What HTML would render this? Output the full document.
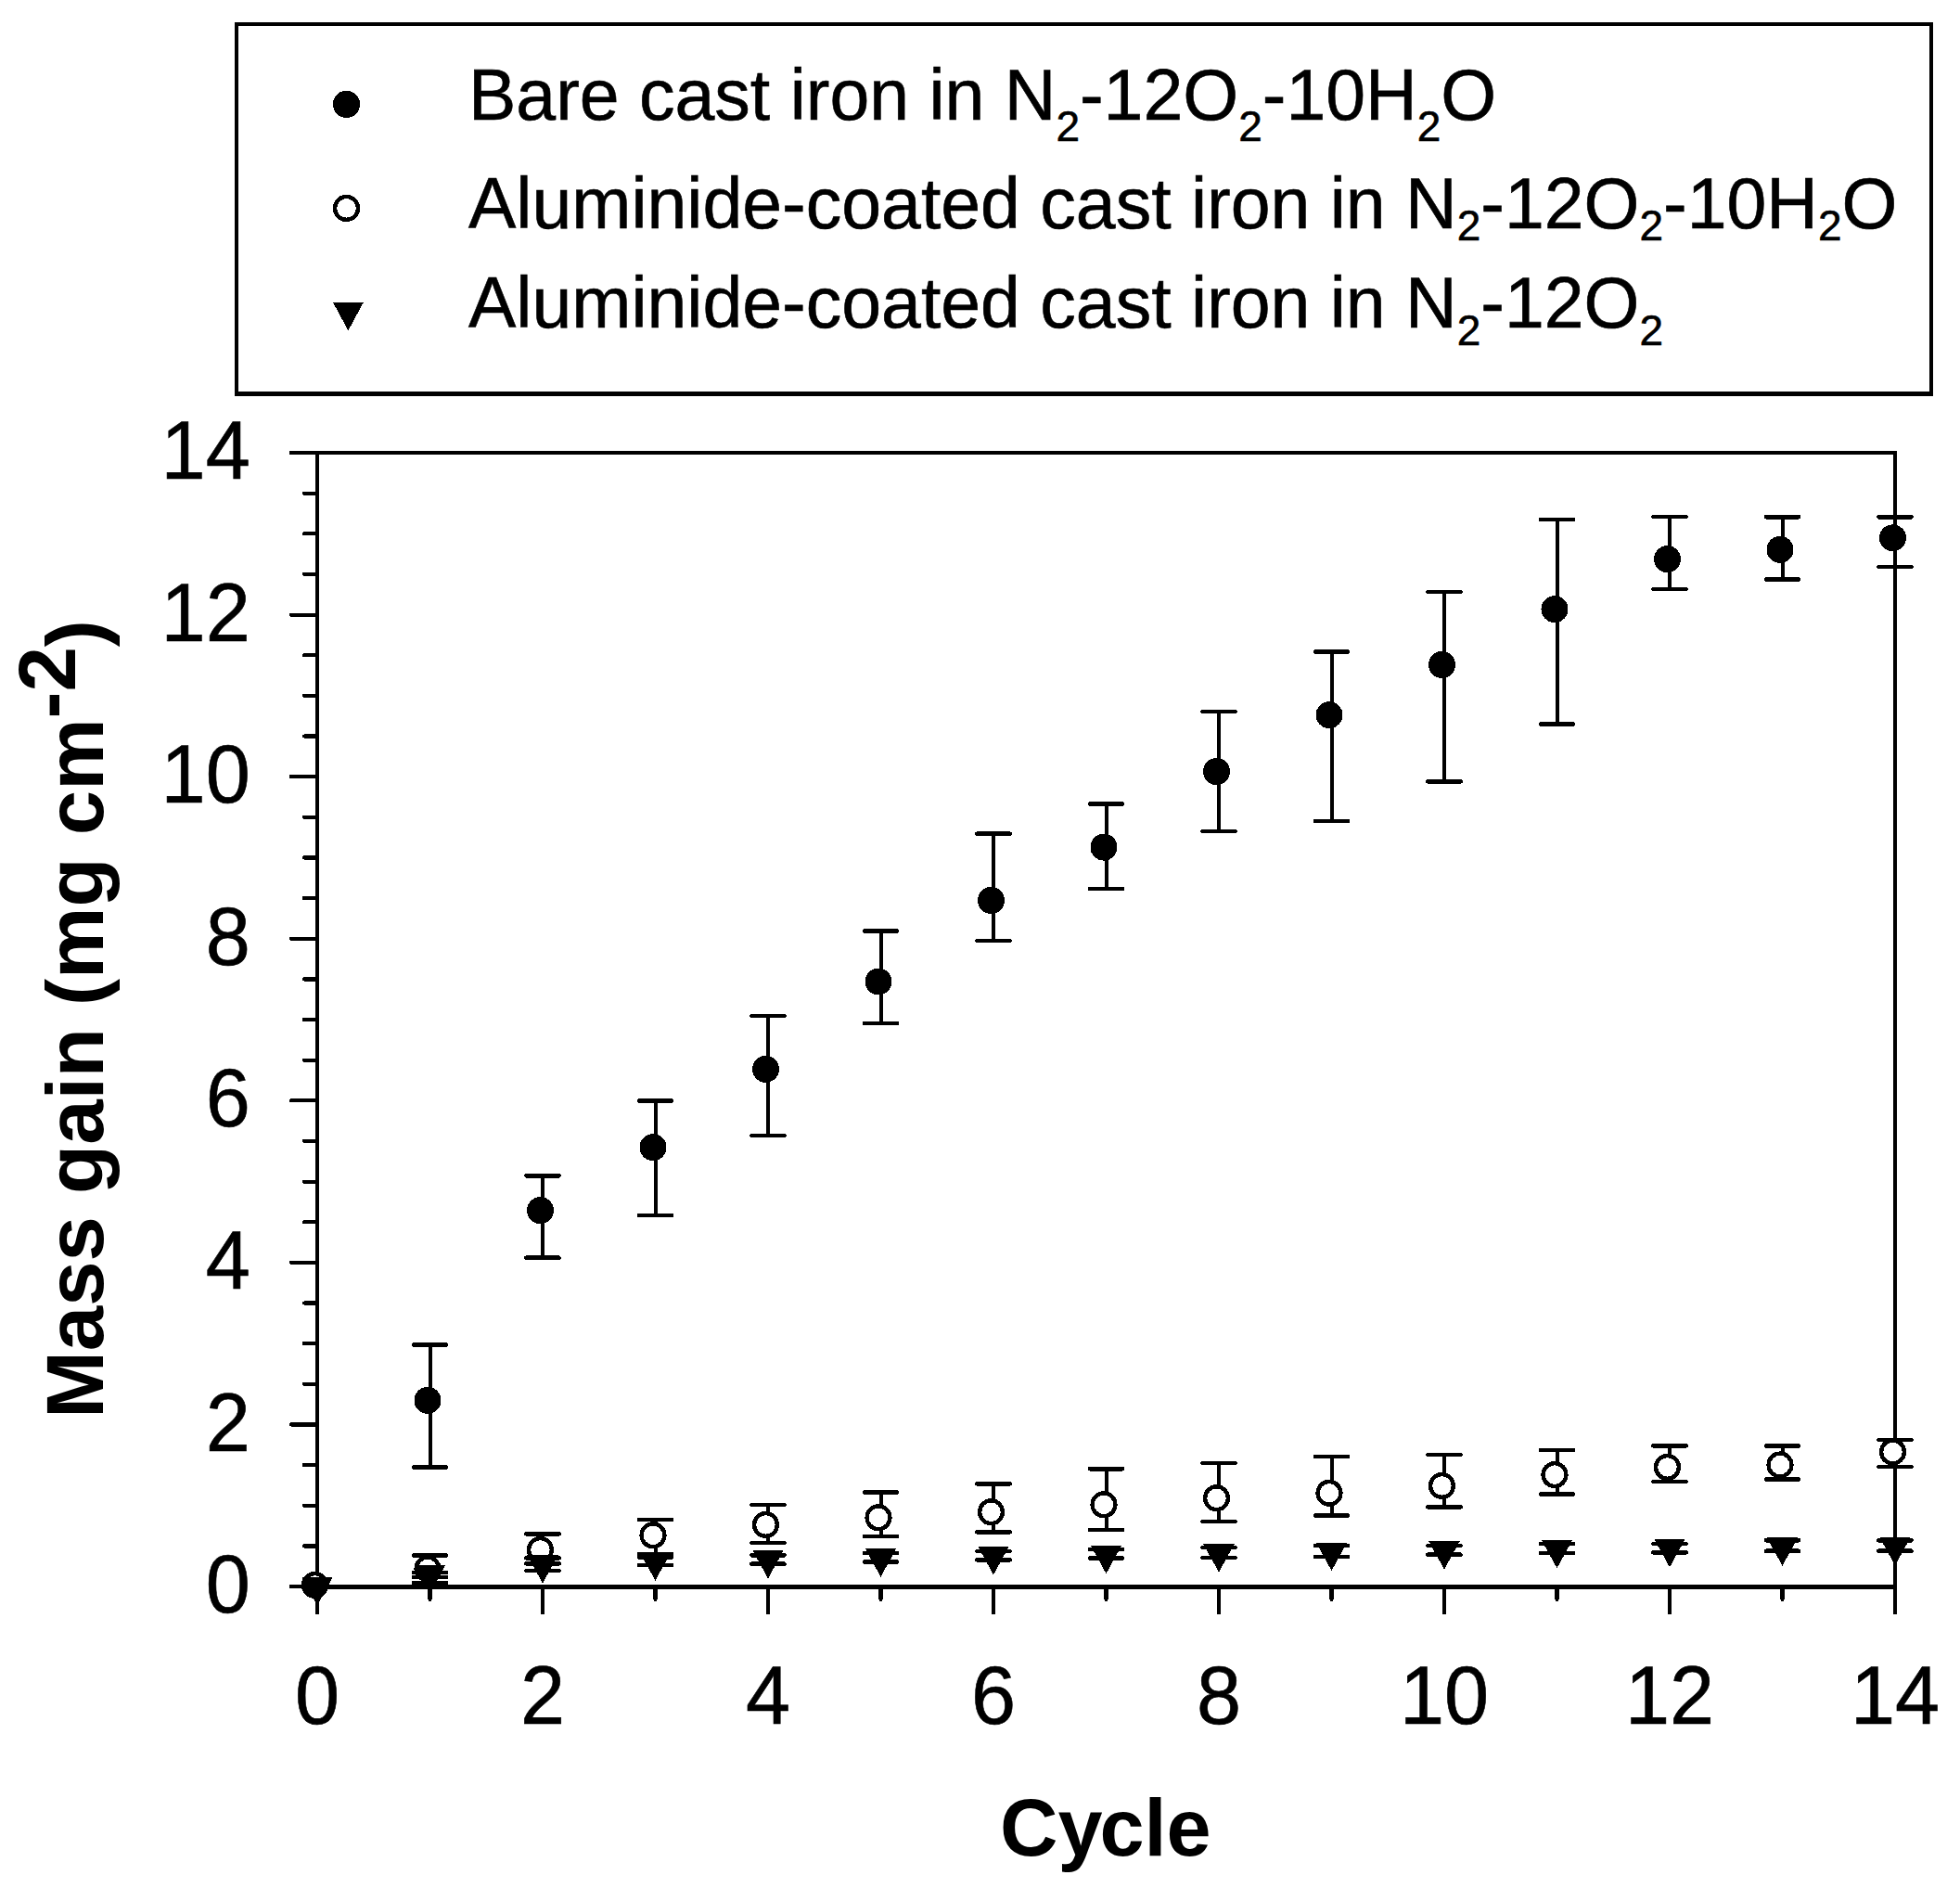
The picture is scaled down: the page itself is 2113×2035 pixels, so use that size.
<!DOCTYPE html>
<html><head><meta charset="utf-8"><title>Mass gain vs cycle</title>
<style>
html,body{margin:0;padding:0;background:#fff}
svg{display:block}
text{font-family:"Liberation Sans",Arial,Helvetica,sans-serif}
</style></head><body>
<svg width="2113" height="2035" viewBox="0 0 2113 2035" shape-rendering="crispEdges">
<rect width="2113" height="2035" fill="#fff"/>
<!-- legend -->
<rect x="255" y="26" width="1827" height="398.5" fill="none" stroke="#000" stroke-width="4.2"/>
<circle cx="373.5" cy="112.3" r="14.6" fill="#000"/>
<circle cx="373.5" cy="224.4" r="12.5" fill="#fff" stroke="#000" stroke-width="4.4"/>
<path d="M358.8 325.6H392L375.4 356.3Z" fill="#000"/>
<g font-size="77" fill="#000" stroke="#000" stroke-width="0.6">
<text x="505" y="128.7">Bare cast iron in N<tspan font-size="46" dy="23">2</tspan><tspan dy="-23">-12O</tspan><tspan font-size="46" dy="23">2</tspan><tspan dy="-23">-10H</tspan><tspan font-size="46" dy="23">2</tspan><tspan dy="-23">O</tspan></text>
<text x="505" y="245.5">Aluminide-coated cast iron in N<tspan font-size="46" dy="13.2">2</tspan><tspan dy="-13.2">-12O</tspan><tspan font-size="46" dy="13.2">2</tspan><tspan dy="-13.2">-10H</tspan><tspan font-size="46" dy="13.2">2</tspan><tspan dy="-13.2">O</tspan></text>
<text x="505" y="353">Aluminide-coated cast iron in N<tspan font-size="46" dy="18.6">2</tspan><tspan dy="-18.6">-12O</tspan><tspan font-size="46" dy="18.6">2</tspan></text>
</g>
<!-- axes -->
<g stroke="#000" stroke-width="4" fill="none">
<path d="M342 1712V488H2043V1712" stroke-linejoin="miter"/><path d="M340 1710.3H2045" stroke-width="4.5"/>
</g><g stroke="#000" stroke-width="4.2" stroke-linecap="round" fill="none">
<path d="M314 1710.0H340M328 1666.4H340M328 1622.7H340M328 1579.1H340M314 1535.4H340M328 1491.8H340M328 1448.1H340M328 1404.5H340M314 1360.9H340M328 1317.2H340M328 1273.6H340M328 1229.9H340M314 1186.3H340M328 1142.6H340M328 1099.0H340M328 1055.4H340M314 1011.7H340M328 968.1H340M328 924.4H340M328 880.8H340M314 837.1H340M328 793.5H340M328 749.9H340M328 706.2H340M314 662.6H340M328 618.9H340M328 575.3H340M328 531.6H340M314 488.0H340M342.0 1712V1738M463.5 1712V1724M585.0 1712V1738M706.5 1712V1724M828.0 1712V1738M949.5 1712V1724M1071.0 1712V1738M1192.5 1712V1724M1314.0 1712V1738M1435.5 1712V1724M1557.0 1712V1738M1678.5 1712V1724M1800.0 1712V1738M1921.5 1712V1724M2043.0 1712V1738"/>
</g>
<g font-size="86.5" fill="#000" stroke="#000" stroke-width="0.6">
<text transform="translate(269.8 1738.1) scale(1 1.035)" text-anchor="end">0</text>
<text transform="translate(269.8 1563.5) scale(1 1.035)" text-anchor="end">2</text>
<text transform="translate(269.8 1389.0) scale(1 1.035)" text-anchor="end">4</text>
<text transform="translate(269.8 1214.4) scale(1 1.035)" text-anchor="end">6</text>
<text transform="translate(269.8 1039.8) scale(1 1.035)" text-anchor="end">8</text>
<text transform="translate(269.8 865.2) scale(1 1.035)" text-anchor="end">10</text>
<text transform="translate(269.8 690.7) scale(1 1.035)" text-anchor="end">12</text>
<text transform="translate(269.8 516.1) scale(1 1.035)" text-anchor="end">14</text>
<text transform="translate(342.0 1857.8) scale(1 1.035)" text-anchor="middle">0</text>
<text transform="translate(585.0 1857.8) scale(1 1.035)" text-anchor="middle">2</text>
<text transform="translate(828.0 1857.8) scale(1 1.035)" text-anchor="middle">4</text>
<text transform="translate(1071.0 1857.8) scale(1 1.035)" text-anchor="middle">6</text>
<text transform="translate(1314.0 1857.8) scale(1 1.035)" text-anchor="middle">8</text>
<text transform="translate(1557.0 1857.8) scale(1 1.035)" text-anchor="middle">10</text>
<text transform="translate(1800.0 1857.8) scale(1 1.035)" text-anchor="middle">12</text>
<text transform="translate(2043.0 1857.8) scale(1 1.035)" text-anchor="middle">14</text>
</g>
<!-- titles -->
<text x="1078" y="1999.7" font-size="86.5" font-weight="bold">Cy<tspan dx="-3.2">cle</tspan></text>
<text transform="translate(111.1 1528.7) rotate(-90)" font-size="87" font-weight="bold">Mass gain (mg cm<tspan dy="-29.7">-2</tspan><tspan dy="29.7">)</tspan></text>
<!-- data -->
<g stroke="#000" fill="none">
<path d="M463.5 1449.6V1581.6" stroke-width="4"/><path d="M445.9 1449.6H481.1M445.9 1581.6H481.1" stroke-width="4.6" stroke-linecap="round"/>
<path d="M585.0 1267.2V1355.7" stroke-width="4"/><path d="M567.4 1267.2H602.6M567.4 1355.7H602.6" stroke-width="4.6" stroke-linecap="round"/>
<path d="M706.5 1186.5V1310.0" stroke-width="4"/><path d="M688.9 1186.5H724.1M688.9 1310.0H724.1" stroke-width="4.6" stroke-linecap="round"/>
<path d="M828.0 1094.9V1223.9" stroke-width="4"/><path d="M810.4 1094.9H845.6M810.4 1223.9H845.6" stroke-width="4.6" stroke-linecap="round"/>
<path d="M949.5 1003.4V1103.0" stroke-width="4"/><path d="M931.9 1003.4H967.1M931.9 1103.0H967.1" stroke-width="4.6" stroke-linecap="round"/>
<path d="M1071.0 898.6V1014.0" stroke-width="4"/><path d="M1053.4 898.6H1088.6M1053.4 1014.0H1088.6" stroke-width="4.6" stroke-linecap="round"/>
<path d="M1192.5 866.4V957.9" stroke-width="4"/><path d="M1174.9 866.4H1210.1M1174.9 957.9H1210.1" stroke-width="4.6" stroke-linecap="round"/>
<path d="M1314.0 766.8V895.9" stroke-width="4"/><path d="M1296.4 766.8H1331.6M1296.4 895.9H1331.6" stroke-width="4.6" stroke-linecap="round"/>
<path d="M1435.5 702.5V885.0" stroke-width="4"/><path d="M1417.9 702.5H1453.1M1417.9 885.0H1453.1" stroke-width="4.6" stroke-linecap="round"/>
<path d="M1557.0 637.8V842.5" stroke-width="4"/><path d="M1539.4 637.8H1574.6M1539.4 842.5H1574.6" stroke-width="4.6" stroke-linecap="round"/>
<path d="M1678.5 559.8V780.5" stroke-width="4"/><path d="M1660.9 559.8H1696.1M1660.9 780.5H1696.1" stroke-width="4.6" stroke-linecap="round"/>
<path d="M1800.0 557.1V635.0" stroke-width="4"/><path d="M1782.4 557.1H1817.6M1782.4 635.0H1817.6" stroke-width="4.6" stroke-linecap="round"/>
<path d="M1921.5 557.2V624.5" stroke-width="4"/><path d="M1903.9 557.2H1939.1M1903.9 624.5H1939.1" stroke-width="4.6" stroke-linecap="round"/>
<path d="M2043.0 557.2V611.0" stroke-width="4"/><path d="M2025.4 557.2H2060.6M2025.4 611.0H2060.6" stroke-width="4.6" stroke-linecap="round"/>
</g><g fill="#000">
<circle cx="339.5" cy="1708.4" r="14.5"/>
<circle cx="461.0" cy="1509.3" r="14.5"/>
<circle cx="582.5" cy="1304.7" r="14.5"/>
<circle cx="704.0" cy="1236.7" r="14.5"/>
<circle cx="825.5" cy="1152.3" r="14.5"/>
<circle cx="947.0" cy="1058.0" r="14.5"/>
<circle cx="1068.5" cy="970.4" r="14.5"/>
<circle cx="1190.0" cy="913.1" r="14.5"/>
<circle cx="1311.5" cy="831.6" r="14.5"/>
<circle cx="1433.0" cy="770.6" r="14.5"/>
<circle cx="1554.5" cy="716.4" r="14.5"/>
<circle cx="1676.0" cy="656.6" r="14.5"/>
<circle cx="1797.5" cy="602.7" r="14.5"/>
<circle cx="1919.0" cy="592.3" r="14.5"/>
<circle cx="2040.5" cy="579.8" r="14.5"/>
</g><g stroke="#000" fill="none">
<path d="M463.5 1676.5V1705.9" stroke-width="4"/><path d="M445.9 1676.5H481.1M445.9 1705.9H481.1" stroke-width="4.6" stroke-linecap="round"/>
<path d="M585.0 1653.5V1685.4" stroke-width="4"/><path d="M567.4 1653.5H602.6M567.4 1685.4H602.6" stroke-width="4.6" stroke-linecap="round"/>
<path d="M706.5 1638.1V1675.3" stroke-width="4"/><path d="M688.9 1638.1H724.1M688.9 1675.3H724.1" stroke-width="4.6" stroke-linecap="round"/>
<path d="M828.0 1622.0V1662.9" stroke-width="4"/><path d="M810.4 1622.0H845.6M810.4 1662.9H845.6" stroke-width="4.6" stroke-linecap="round"/>
<path d="M949.5 1608.6V1655.8" stroke-width="4"/><path d="M931.9 1608.6H967.1M931.9 1655.8H967.1" stroke-width="4.6" stroke-linecap="round"/>
<path d="M1071.0 1599.4V1651.4" stroke-width="4"/><path d="M1053.4 1599.4H1088.6M1053.4 1651.4H1088.6" stroke-width="4.6" stroke-linecap="round"/>
<path d="M1192.5 1583.3V1648.9" stroke-width="4"/><path d="M1174.9 1583.3H1210.1M1174.9 1648.9H1210.1" stroke-width="4.6" stroke-linecap="round"/>
<path d="M1314.0 1576.9V1640.0" stroke-width="4"/><path d="M1296.4 1576.9H1331.6M1296.4 1640.0H1331.6" stroke-width="4.6" stroke-linecap="round"/>
<path d="M1435.5 1569.9V1633.4" stroke-width="4"/><path d="M1417.9 1569.9H1453.1M1417.9 1633.4H1453.1" stroke-width="4.6" stroke-linecap="round"/>
<path d="M1557.0 1567.9V1624.5" stroke-width="4"/><path d="M1539.4 1567.9H1574.6M1539.4 1624.5H1574.6" stroke-width="4.6" stroke-linecap="round"/>
<path d="M1678.5 1563.1V1610.6" stroke-width="4"/><path d="M1660.9 1563.1H1696.1M1660.9 1610.6H1696.1" stroke-width="4.6" stroke-linecap="round"/>
<path d="M1800.0 1558.5V1596.9" stroke-width="4"/><path d="M1782.4 1558.5H1817.6M1782.4 1596.9H1817.6" stroke-width="4.6" stroke-linecap="round"/>
<path d="M1921.5 1558.5V1594.4" stroke-width="4"/><path d="M1903.9 1558.5H1939.1M1903.9 1594.4H1939.1" stroke-width="4.6" stroke-linecap="round"/>
<path d="M2043.0 1551.9V1581.0" stroke-width="4"/><path d="M2025.4 1551.9H2060.6M2025.4 1581.0H2060.6" stroke-width="4.6" stroke-linecap="round"/>
</g><g stroke="#000" stroke-width="4.4" fill="#fff">
<circle cx="339.5" cy="1708.4" r="12.4"/>
<circle cx="461.0" cy="1691.0" r="12.4"/>
<circle cx="582.5" cy="1670.5" r="12.4"/>
<circle cx="704.0" cy="1654.8" r="12.4"/>
<circle cx="825.5" cy="1643.5" r="12.4"/>
<circle cx="947.0" cy="1635.8" r="12.4"/>
<circle cx="1068.5" cy="1629.8" r="12.4"/>
<circle cx="1190.0" cy="1621.8" r="12.4"/>
<circle cx="1311.5" cy="1614.8" r="12.4"/>
<circle cx="1433.0" cy="1609.3" r="12.4"/>
<circle cx="1554.5" cy="1601.5" r="12.4"/>
<circle cx="1676.0" cy="1589.6" r="12.4"/>
<circle cx="1797.5" cy="1581.4" r="12.4"/>
<circle cx="1919.0" cy="1579.0" r="12.4"/>
<circle cx="2040.5" cy="1565.0" r="12.4"/>
</g><g stroke="#000" fill="none">
<path d="M463.5 1695.0V1699.9" stroke-width="4"/><path d="M445.9 1695.0H481.1M445.9 1699.9H481.1" stroke-width="4.6" stroke-linecap="round"/>
<path d="M585.0 1679.4V1693.0" stroke-width="4"/><path d="M567.4 1679.4H602.6M567.4 1693.0H602.6" stroke-width="4.6" stroke-linecap="round"/>
<path d="M706.5 1678.4V1686.8" stroke-width="4"/><path d="M688.9 1678.4H724.1M688.9 1686.8H724.1" stroke-width="4.6" stroke-linecap="round"/>
<path d="M828.0 1676.2V1685.7" stroke-width="4"/><path d="M810.4 1676.2H845.6M810.4 1685.7H845.6" stroke-width="4.6" stroke-linecap="round"/>
<path d="M949.5 1674.0V1683.5" stroke-width="4"/><path d="M931.9 1674.0H967.1M931.9 1683.5H967.1" stroke-width="4.6" stroke-linecap="round"/>
<path d="M1071.0 1671.8V1681.4" stroke-width="4"/><path d="M1053.4 1671.8H1088.6M1053.4 1681.4H1088.6" stroke-width="4.6" stroke-linecap="round"/>
<path d="M1192.5 1669.8V1679.5" stroke-width="4"/><path d="M1174.9 1669.8H1210.1M1174.9 1679.5H1210.1" stroke-width="4.6" stroke-linecap="round"/>
<path d="M1314.0 1667.9V1679.1" stroke-width="4"/><path d="M1296.4 1667.9H1331.6M1296.4 1679.1H1331.6" stroke-width="4.6" stroke-linecap="round"/>
<path d="M1435.5 1666.0V1677.8" stroke-width="4"/><path d="M1417.9 1666.0H1453.1M1417.9 1677.8H1453.1" stroke-width="4.6" stroke-linecap="round"/>
<path d="M1557.0 1666.0V1675.7" stroke-width="4"/><path d="M1539.4 1666.0H1574.6M1539.4 1675.7H1574.6" stroke-width="4.6" stroke-linecap="round"/>
<path d="M1678.5 1664.1V1673.8" stroke-width="4"/><path d="M1660.9 1664.1H1696.1M1660.9 1673.8H1696.1" stroke-width="4.6" stroke-linecap="round"/>
<path d="M1800.0 1663.8V1673.5" stroke-width="4"/><path d="M1782.4 1663.8H1817.6M1782.4 1673.5H1817.6" stroke-width="4.6" stroke-linecap="round"/>
<path d="M1921.5 1660.3V1671.7" stroke-width="4"/><path d="M1903.9 1660.3H1939.1M1903.9 1671.7H1939.1" stroke-width="4.6" stroke-linecap="round"/>
<path d="M2043.0 1660.3V1671.7" stroke-width="4"/><path d="M2025.4 1660.3H2060.6M2025.4 1671.7H2060.6" stroke-width="4.6" stroke-linecap="round"/>
</g><g>
<path d="M331.4 1701A11 11 0 1 0 347.6 1701Z" fill="#000"/>
<path d="M325.2 1699.8H358.8L342.0 1730.4Z" fill="#000" stroke="none"/>
<path d="M446.7 1687.0H480.3L463.5 1717.6Z" fill="#000" stroke="none"/>
<path d="M568.2 1676.0H601.8L585.0 1706.6Z" fill="#000" stroke="none"/>
<path d="M689.7 1673.0H723.3L706.5 1703.6Z" fill="#000" stroke="none"/>
<path d="M811.2 1670.9H844.8L828.0 1701.5Z" fill="#000" stroke="none"/>
<path d="M932.7 1669.0H966.3L949.5 1699.6Z" fill="#000" stroke="none"/>
<path d="M1054.2 1666.8H1087.8L1071.0 1697.4Z" fill="#000" stroke="none"/>
<path d="M1175.7 1665.6H1209.3L1192.5 1696.2Z" fill="#000" stroke="none"/>
<path d="M1297.2 1664.0H1330.8L1314.0 1694.6Z" fill="#000" stroke="none"/>
<path d="M1418.7 1662.5H1452.3L1435.5 1693.1Z" fill="#000" stroke="none"/>
<path d="M1540.2 1661.0H1573.8L1557.0 1691.6Z" fill="#000" stroke="none"/>
<path d="M1661.7 1659.7H1695.3L1678.5 1690.3Z" fill="#000" stroke="none"/>
<path d="M1783.2 1658.7H1816.8L1800.0 1689.3Z" fill="#000" stroke="none"/>
<path d="M1904.7 1657.1H1938.3L1921.5 1687.7Z" fill="#000" stroke="none"/>
<path d="M2026.2 1656.8H2059.8L2043.0 1687.4Z" fill="#000" stroke="none"/>
</g>
</svg>
</body></html>
